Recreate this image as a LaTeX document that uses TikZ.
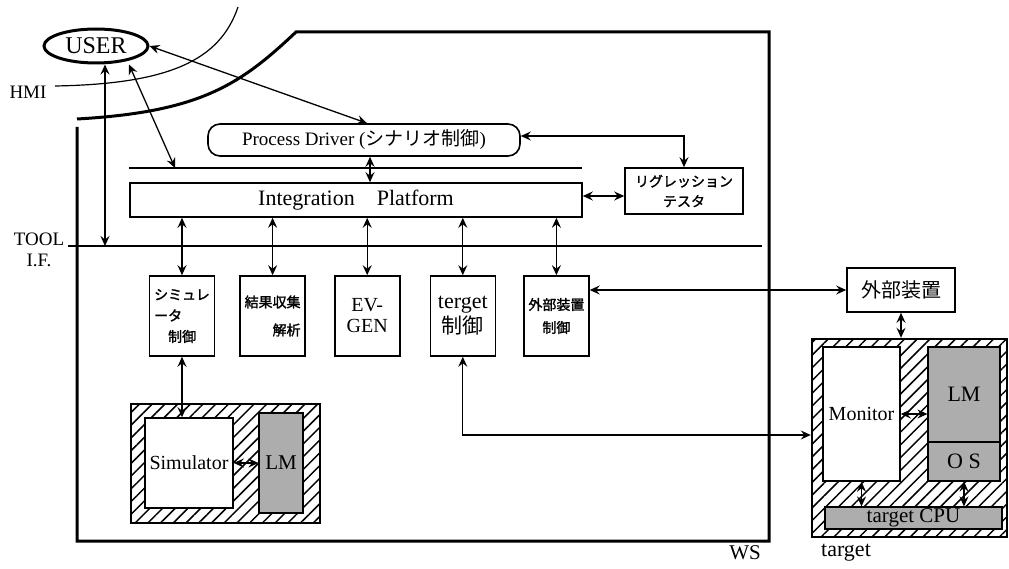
\documentclass[tikz,border=0pt]{standalone}
\usepackage{fontspec}
\setmainfont{Liberation Serif}
\newfontfamily\jp{Noto Sans CJK JP}[AutoFakeBold=1.6]
\usetikzlibrary{arrows.meta,positioning,shapes.geometric,patterns.meta}

\begin{document}
\begin{tikzpicture}[x=1pt, y=-1pt, >={Stealth[length=10pt,width=9pt,inset=3.5pt]},
  box/.style={draw, line width=1.6pt, inner sep=0pt, align=center},
  mod/.style={box, minimum width=65pt, minimum height=80pt, font=\jp\bfseries\fontsize{14}{21}\selectfont},
  hatch/.style={draw, line width=2.4pt, pattern={Lines[angle=45,distance=9pt,line width=1.5pt]}},
  dots/.style={draw, line width=1.2pt, fill=black!32, inner sep=0pt},
  e/.style={<->, line width=1.3pt},
  wall/.style={line width=3pt}]
\useasboundingbox (0,0) rectangle (1009,569);

% user side
\node[draw, ellipse, line width=3pt, minimum width=104pt, minimum height=34pt, inner sep=0pt,
  font=\fontsize{24}{26}\selectfont] (user) at (96,46) {USER};
\node[font=\fontsize{19}{21}\selectfont] (hmi) at (28,92) {HMI};
\draw[line width=1.2pt] (55,86) .. controls (170,84) and (220,60) .. (238,7);

% WS frame
\draw[wall] (77,127) -- (77,541) -- (769,541) -- (769,32) -- (296,32)
  .. controls (240,85) and (200,112) .. (77,119);
\node[font=\fontsize{21}{24}\selectfont] (ws) at (745,553) {WS};

% driver and platform
\node[box, rounded corners=12pt, minimum width=312pt, minimum height=32pt,
  font=\fontsize{19}{20}\selectfont] (pd) at (364,140) {Process Driver ({\jp シナリオ制御})};
\coordinate (la) at (129,168); \coordinate (lb) at (582,168);
\draw[line width=1.3pt] (la) -- (lb);
\node[box, minimum width=452pt, minimum height=34pt, font=\fontsize{22}{24}\selectfont]
  (ip) at (356,200) {Integration\quad Platform};
\node[box, minimum width=118pt, minimum height=46pt, font=\jp\bfseries\fontsize{14}{20}\selectfont]
  (rt) at (684,191) {リグレッション\\テスタ};

% tool i.f.
\coordinate (ta) at (68,246); \coordinate (tb) at (762,246);
\draw[line width=1.3pt] (ta) -- (tb);
\node[align=center, font=\fontsize{19}{21}\selectfont] (tool) at (39,250) {TOOL\\I.F.};

% tool modules
\node[mod, align=left] (m1) at (182,316) {シミュレ\\ータ\\\hspace{1em}制御};
\node[mod, align=right, right=24pt of m1, font=\jp\bfseries\fontsize{14}{28}\selectfont] (m2) {結果収集\\解析};
\node[mod, right=28pt of m2, font=\fontsize{20}{21}\selectfont] (m3) {EV-\\GEN};
\node[mod, right=29pt of m3, font=\fontsize{22}{25}\selectfont] (m4) {terget\\{\jp\fontsize{21}{25}\selectfont 制御}};
\node[mod, right=27pt of m4, font=\jp\bfseries\fontsize{14}{23}\selectfont] (m5) {外部装置\\制御};
\foreach \m in {m1,m2,m3,m4,m5}
  \draw[e] (ip.south -| \m.north) -- (\m.north);

% simulator
\node[hatch, minimum width=189pt, minimum height=119pt] (sim) at (225.5,463.5) {};
\node[box, fill=white, minimum width=88pt, minimum height=90pt, font=\fontsize{20}{21}\selectfont]
  (simu) at (189,463) {Simulator};
\node[dots, minimum width=44pt, minimum height=100pt, font=\fontsize{21}{23}\selectfont]
  (slm) at (281,463) {LM};
\draw[e] (simu.east) -- (slm.west);
\draw[e] (m1.south) -- (m1.south |- simu.north);

% target
\node[box, minimum width=108pt, minimum height=44pt, font=\jp\fontsize{20}{21}\selectfont]
  (ext) at (901,290) {外部装置};
\node[hatch, minimum width=195pt, minimum height=198pt] (tgt) at (909.5,438) {};
\node[box, fill=white, minimum width=77pt, minimum height=134pt, font=\fontsize{20}{21}\selectfont]
  (mon) at (861.5,414) {Monitor};
\node[dots, minimum width=72pt, minimum height=95pt, font=\fontsize{22}{24}\selectfont]
  (tlm) at (964,394.5) {LM};
\node[dots, minimum width=72pt, minimum height=39pt, font=\fontsize{22}{24}\selectfont]
  (os) at (964,461.5) {O S};
\node[dots, minimum width=177pt, minimum height=22pt, font=\fontsize{21}{23}\selectfont]
  (cpu) at (913.5,518) {target CPU};
\node[font=\fontsize{22}{24}\selectfont] (tlbl) at (846,553) {target};
\draw[e] (mon.east) -- (mon.east -| tlm.west);
\draw[e] (mon.south) -- (mon.south |- cpu.north);
\draw[e] (os.south) -- (os.south |- cpu.north);
\draw[e] (ext.south) -- (ext.south |- tgt.north);
\draw[e] (m5.east |- ext.west) -- (ext.west);
\draw[e] (m4.south) |- ([yshift=3pt]tgt.west);

% links from the user
\coordinate (lu) at (175,168);
\draw[e] (user.east) -- ([xshift=3pt]pd.north);
\draw[e] ([xshift=33pt]user.south) -- (lu);
\draw[e] ([xshift=9pt]user.south) -- ([xshift=9pt]user.south |- ta);
\draw[e] ([yshift=4pt]pd.east) -| (rt.north);
\draw[e] ([xshift=6pt]pd.south) -- ([xshift=6pt]pd.south |- ip.north);
\draw[e] ([yshift=4pt]ip.east) -- ([yshift=4pt]ip.east -| rt.west);
\end{tikzpicture}
\end{document}
